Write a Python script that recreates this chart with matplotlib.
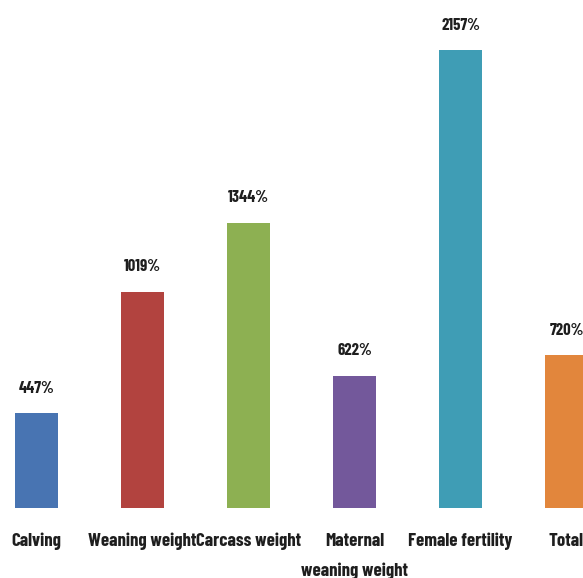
import matplotlib.pyplot as plt

categories = ["Calving", "Weaning weight", "Carcass weight",
              "Maternal\nweaning weight", "Female fertility", "Total"]
values = [447, 1019, 1344, 622, 2157, 720]
value_labels = ["447%", "1019%", "1344%", "622%", "2157%", "720%"]
colors = ["#4874b2", "#b2433f", "#8db052", "#73589b", "#3f9db5", "#e2863c"]

plt.rcParams["font.family"] = ["Barlow Condensed", "Liberation Sans", "DejaVu Sans"]

fig = plt.figure(figsize=(5.83, 5.78), dpi=100)
ax = fig.add_axes([0, 1 - 508 / 578, 1, 508 / 578])

x = list(range(len(categories)))
ax.bar(x, values, width=0.405, color=colors)

ax.set_xlim(-0.344, 5.156)
ymax = 2157 * 508 / 458
ax.set_ylim(0, ymax)
px = ymax / 508  # data units per pixel

for xi, v, lab in zip(x, values, value_labels):
    ax.text(xi, v + 25 * px, lab, ha="center", va="center",
            fontsize=12, fontweight="bold", color="#1e1e1e", clip_on=False)

# category names under the bars, one baseline per line
for xi, cat in zip(x, categories):
    for k, line in enumerate(cat.split("\n")):
        ax.text(xi, -(38 + 30 * k) * px, line, ha="center", va="baseline",
                fontsize=13.5, fontweight="bold", color="#1e1e1e", clip_on=False)

ax.axis("off")
fig.savefig("out.png", dpi=100, facecolor="white")
